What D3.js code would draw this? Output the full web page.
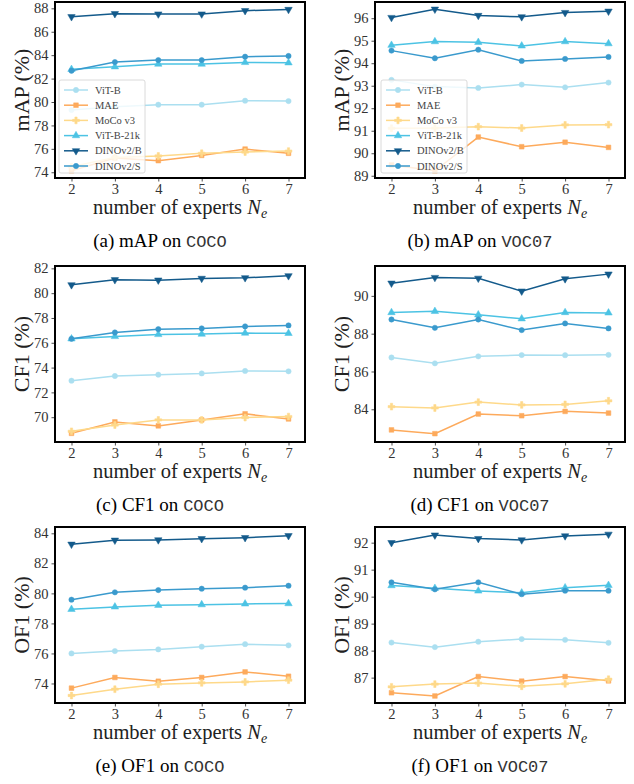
<!DOCTYPE html>
<html>
<head>
<meta charset="utf-8">
<script src="https://cdn.jsdelivr.net/npm/d3@7"></script>
<style>
  body { margin: 0; background: #fff; }
  svg { display: block; }
</style>
</head>
<body>
<div id="chart"></div>
<script>
// x values: number of experts
var experts = [2, 3, 4, 5, 6, 7];
var seriesNames = ["ViT-B", "MAE", "MoCo v3", "ViT-B-21k", "DINOv2/B", "DINOv2/S"];

// values per panel, rows follow seriesNames
var mapCoco = [
    [79.31, 79.60, 79.77, 79.77, 80.11, 80.08],
    [74.13, 75.22, 74.99, 75.44, 75.98, 75.62],
    [74.47, 75.27, 75.39, 75.62, 75.73, 75.81],
    [82.79, 83.01, 83.24, 83.24, 83.38, 83.35],
    [87.28, 87.54, 87.51, 87.51, 87.80, 87.90],
    [82.67, 83.41, 83.58, 83.58, 83.87, 83.93]
];
var mapVoc = [
    [93.26, 92.96, 92.90, 93.05, 92.93, 93.14],
    [89.48, 89.22, 90.72, 90.29, 90.49, 90.26],
    [91.11, 91.12, 91.18, 91.12, 91.26, 91.27],
    [94.80, 94.96, 94.93, 94.77, 94.96, 94.87],
    [96.03, 96.40, 96.12, 96.06, 96.25, 96.31],
    [94.56, 94.22, 94.60, 94.10, 94.19, 94.28]
];
var cf1Coco = [
    [72.94, 73.32, 73.43, 73.53, 73.73, 73.70],
    [68.70, 69.62, 69.30, 69.78, 70.27, 69.86],
    [68.86, 69.37, 69.78, 69.78, 69.97, 70.05],
    [76.32, 76.51, 76.67, 76.70, 76.78, 76.76],
    [80.67, 81.08, 81.05, 81.19, 81.24, 81.40],
    [76.32, 76.83, 77.10, 77.16, 77.32, 77.40]
];
var cf1Voc = [
    [86.74, 86.43, 86.80, 86.87, 86.86, 86.88],
    [82.91, 82.71, 83.75, 83.66, 83.89, 83.80],
    [84.14, 84.07, 84.38, 84.23, 84.26, 84.45],
    [89.12, 89.18, 89.00, 88.79, 89.12, 89.10],
    [90.67, 90.97, 90.93, 90.25, 90.90, 91.15],
    [88.75, 88.31, 88.75, 88.19, 88.54, 88.28]
];
var of1Coco = [
    [76.00, 76.16, 76.27, 76.45, 76.62, 76.54],
    [73.69, 74.40, 74.15, 74.40, 74.77, 74.48],
    [73.20, 73.62, 73.95, 74.04, 74.10, 74.22],
    [78.94, 79.10, 79.21, 79.25, 79.30, 79.32],
    [83.27, 83.54, 83.56, 83.64, 83.71, 83.84],
    [79.58, 80.07, 80.22, 80.31, 80.38, 80.51]
];
var of1Voc = [
    [88.30, 88.13, 88.33, 88.43, 88.40, 88.29],
    [86.44, 86.32, 87.04, 86.87, 87.04, 86.88],
    [86.66, 86.76, 86.80, 86.68, 86.77, 86.94],
    [90.41, 90.31, 90.21, 90.14, 90.33, 90.42],
    [92.00, 92.28, 92.15, 92.10, 92.25, 92.31],
    [90.53, 90.27, 90.53, 90.09, 90.22, 90.22]
];

// y tick labels per panel
var ticksMapCoco = [74, 76, 78, 80, 82, 84, 86, 88];
var ticksMapVoc = [89, 90, 91, 92, 93, 94, 95, 96];
var ticksCf1Coco = [70, 72, 74, 76, 78, 80, 82];
var ticksCf1Voc = [84, 86, 88, 90];
var ticksOf1Coco = [74, 76, 78, 80, 82, 84];
var ticksOf1Voc = [87, 88, 89, 90, 91, 92];

var metricLabels = ["mAP (%)", "mAP (%)", "CF1 (%)", "CF1 (%)", "OF1 (%)", "OF1 (%)"];
var captionLabels = ["(a) mAP on ", "(b) mAP on ", "(c) CF1 on ", "(d) CF1 on ", "(e) OF1 on ", "(f) OF1 on "];
var captionDatasets = ["COCO", "VOC07", "COCO", "VOC07", "COCO", "VOC07"];

// styling
var colors = ["#abdff0", "#fdaa5c", "#fed98a", "#4cc3e4", "#135a8b", "#3a9acd"];
var markers = ["circle", "square", "cross", "up", "down", "circle"];
var serif = "'Liberation Serif', 'DejaVu Serif', serif";
var mono = "'Liberation Mono', 'DejaVu Sans Mono', monospace";

var panels = [
    {values: mapCoco, ticks: ticksMapCoco, yDomain: [73.51, 88.54], legend: true},
    {values: mapVoc, ticks: ticksMapVoc, yDomain: [88.9, 96.72], legend: true},
    {values: cf1Coco, ticks: ticksCf1Coco, yDomain: [68.0, 82.19], legend: false},
    {values: cf1Voc, ticks: ticksCf1Voc, yDomain: [82.27, 91.58], legend: false},
    {values: of1Coco, ticks: ticksOf1Coco, yDomain: [72.7, 84.42], legend: false},
    {values: of1Voc, ticks: ticksOf1Voc, yDomain: [86.06, 92.58], legend: false}
];

var colLeft = [55, 375], plotW = 250;
var rowTop = [2, 266, 527], plotH = 176;

var svg = d3.select("#chart").append("svg")
    .attr("width", 634)
    .attr("height", 784);

function drawMarker(sel, type, color) {
    var sym;
    if (type == "circle") sym = d3.symbol().type(d3.symbolCircle).size(22);
    else if (type == "square") sym = d3.symbol().type(d3.symbolSquare).size(22);
    else if (type == "cross") sym = d3.symbol().type(d3.symbolCross).size(26);
    else sym = d3.symbol().type(d3.symbolTriangle).size(24);
    sel.append("path")
        .attr("d", sym)
        .attr("transform", type == "down" ? "rotate(180)" : null)
        .attr("fill", color)
        .attr("stroke", color)
        .attr("stroke-width", 0.5);
}

panels.forEach(function (p, i) {
    var col = i % 2, row = Math.floor(i / 2);
    var left = colLeft[col], top = rowTop[row];
    var g = svg.append("g").attr("transform", "translate(" + left + "," + top + ")");

    var x = d3.scaleLinear().domain([1.62, 7.38]).range([0, plotW]);
    var y = d3.scaleLinear().domain(p.yDomain).range([plotH, 0]);

    var xAxis = g.append("g")
        .attr("transform", "translate(0," + plotH + ")")
        .call(d3.axisBottom(x).tickValues(experts).tickSize(3.5).tickPadding(2).tickFormat(d3.format("d")));
    var yAxis = g.append("g")
        .call(d3.axisLeft(y).tickValues(p.ticks).tickSize(3.5).tickPadding(3).tickFormat(d3.format("d")));
    [xAxis, yAxis].forEach(function (a) {
        a.select(".domain").remove();
        a.selectAll("line").attr("stroke", "#222").attr("stroke-width", 0.8);
        a.selectAll("text")
            .attr("font-family", serif)
            .attr("font-size", 14.5)
            .attr("fill", "#333");
    });

    var line = d3.line()
        .x(function (d, j) { return x(experts[j]); })
        .y(function (d) { return y(d); });

    p.values.forEach(function (vals, s) {
        g.append("path")
            .datum(vals)
            .attr("fill", "none")
            .attr("stroke", colors[s])
            .attr("stroke-width", 1.5)
            .attr("d", line);
        g.selectAll(".m" + s)
            .data(vals)
            .enter().append("g")
            .attr("class", "m" + s)
            .attr("transform", function (d, j) { return "translate(" + x(experts[j]) + "," + y(d) + ")"; })
            .each(function () { drawMarker(d3.select(this), markers[s], colors[s]); });
    });

    if (p.legend) {
        var lg = g.append("g").attr("transform", "translate(" + (col == 0 ? 4 : 6) + ",78)");
        lg.append("rect")
            .attr("width", 86).attr("height", 93)
            .attr("rx", 2)
            .attr("fill", "#fff").attr("fill-opacity", 0.8)
            .attr("stroke", "#d0d0d0").attr("stroke-width", 0.8);
        seriesNames.forEach(function (name, s) {
            var row = lg.append("g").attr("transform", "translate(0," + (10 + s * 15.2) + ")");
            row.append("line")
                .attr("x1", 5).attr("x2", 29)
                .attr("stroke", colors[s]).attr("stroke-width", 1.5);
            var mk = row.append("g").attr("transform", "translate(17,0)");
            drawMarker(mk, markers[s], colors[s]);
            row.append("text")
                .attr("x", 36).attr("y", 3.5)
                .attr("font-family", serif)
                .attr("font-size", 10.5)
                .attr("fill", "#444")
                .text(name);
        });
    }

    // thick frame
    g.append("rect")
        .attr("width", plotW).attr("height", plotH)
        .attr("fill", "none")
        .attr("stroke", "#000")
        .attr("stroke-width", 2);

    // y label
    svg.append("text")
        .attr("transform", "translate(" + (col == 0 ? 21 : 341) + "," + (top + plotH / 2) + ") rotate(-90)")
        .attr("text-anchor", "middle")
        .attr("dy", "0.35em")
        .attr("font-family", serif)
        .attr("font-size", 22)
        .attr("fill", "#222")
        .text(metricLabels[i]);

    // x label
    var xl = svg.append("text")
        .attr("x", left + plotW / 2)
        .attr("y", top + plotH + 36)
        .attr("text-anchor", "middle")
        .attr("font-family", serif)
        .attr("font-size", 20.5)
        .attr("fill", "#222");
    xl.append("tspan").text("number of experts ");
    xl.append("tspan").attr("font-style", "italic").text("N");
    xl.append("tspan").attr("font-style", "italic").attr("font-size", 14).attr("dy", 4).text("e");

    // caption
    var cap = svg.append("text")
        .attr("x", col == 0 ? 160 : 480)
        .attr("y", top + plotH + 69)
        .attr("text-anchor", "middle")
        .attr("font-family", serif)
        .attr("font-size", 19)
        .attr("fill", "#000");
    cap.append("tspan").text(captionLabels[i]);
    cap.append("tspan")
        .attr("font-family", mono)
        .attr("font-size", 17)
        .attr("fill", "#333")
        .text(captionDatasets[i]);
});
</script>
</body>
</html>
